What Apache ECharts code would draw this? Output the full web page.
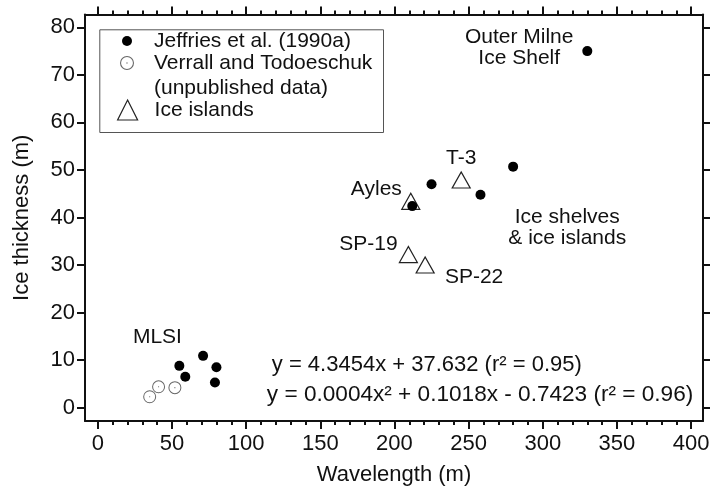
<!DOCTYPE html>
<html>
<head>
<meta charset="utf-8">
<script src="https://cdn.jsdelivr.net/npm/echarts@6/dist/echarts.min.js"></script>
<style>
  html, body { margin: 0; padding: 0; background: #fff; }
  #chart { width: 711px; height: 493px; }
</style>
</head>
<body>
<div id="chart"></div>
<script>
// data: [wavelength (m), ice thickness (m)]
const jeffries = [[330, 75], [280, 50.7], [225, 47], [258, 44.8], [212, 42.4],
  [55, 8.8], [59, 6.5], [71, 10.9], [80, 8.5], [79, 5.3]];
const verrall = [[35, 2.3], [41, 4.4], [52, 4.2]];
const iceIslands = [[211, 43.4], [245, 47.9], [209.4, 32.2], [220.7, 30.0]];

// axis ticks
const xMajor = [0, 50, 100, 150, 200, 250, 300, 350, 400];
const yMajor = [0, 10, 20, 30, 40, 50, 60, 70, 80];
const xMinor = [];
for (let v = 10; v < 400; v += 10) if (v % 50) xMinor.push(v);

// text annotations, placed in data units
const notes = [
  ['Outer Milne\nIce Shelf', 284.1, 75.8, 'center', 21],
  ['T-3', 245, 52.4, 'center', 21],
  ['Ayles', 187.8, 45.9, 'center', 21],
  ['Ice shelves\n& ice islands', 316.5, 37.9, 'center', 21],
  ['SP-19', 182.5, 34.4, 'center', 21],
  ['SP-22', 253.7, 27.5, 'center', 21],
  ['MLSI', 40.2, 14.8, 'center', 21],
  ['y = 4.3454x + 37.632 (r² = 0.95)', 117.3, 9.0, 'left', 22],
  ['y = 0.0004x² + 0.1018x - 0.7423 (r² = 0.96)', 114.0, 2.7, 'left', 22.6]
];

const FONT = "'Liberation Sans', Arial, Helvetica, sans-serif";
const INK = '#111';
const X_MIN = -8.6, X_MAX = 408, Y_MIN = -2.8, Y_MAX = 82.7;

const ring = 'path://M13,0A13,13 0 1,1 13,26A13,13 0 1,1 13,0Z' +
  'M13,2A11,11 0 1,0 13,24A11,11 0 1,0 13,2Z' +
  'M13,11.8A1.2,1.2 0 1,1 13,14.2A1.2,1.2 0 1,1 13,11.8Z';

const chart = echarts.init(document.getElementById('chart'));

function xAxis(pos, ticks, len, line, extra) {
  return Object.assign({
    type: 'value', position: pos, min: X_MIN, max: X_MAX,
    axisLine: { show: line, onZero: false, lineStyle: { color: INK, width: 2 } },
    axisTick: { show: true, inside: false, length: len, customValues: ticks,
      lineStyle: { color: INK, width: 2 } },
    axisLabel: { show: false },
    splitLine: { show: false }
  }, extra || {});
}
function yAxis(pos, len, extra) {
  return Object.assign({
    type: 'value', position: pos, min: Y_MIN, max: Y_MAX,
    axisLine: { show: true, onZero: false, lineStyle: { color: INK, width: 2 } },
    axisTick: { show: true, inside: false, length: len, customValues: yMajor,
      lineStyle: { color: INK, width: 2 } },
    axisLabel: { show: false },
    splitLine: { show: false }
  }, extra || {});
}

// one legend per entry so each icon keeps its own size; icon centred at x = 127
function legendItem(name, top, size, itemStyle) {
  return {
    data: [name], left: 127 - size / 2, top: top, padding: 0,
    itemWidth: size, itemHeight: size, selectedMode: false,
    itemStyle: itemStyle,
    textStyle: { fontSize: 21, color: INK, fontFamily: FONT, lineHeight: 22,
      padding: [0, 0, 0, 22 - size / 2] }
  };
}

const option = {
  animation: false,
  backgroundColor: '#fff',
  grid: { left: 85, right: 8, top: 14.5, bottom: 72, containLabel: false, outerBoundsMode: 'none' },
  xAxis: [
    xAxis('bottom', xMajor, 8, true, {
      axisLabel: { show: true, customValues: xMajor, margin: 12, fontSize: 22, color: INK, fontFamily: FONT },
      name: 'Wavelength (m)', nameLocation: 'middle', nameGap: 43,
      nameTextStyle: { fontSize: 22, color: INK, fontFamily: FONT }
    }),
    xAxis('bottom', xMinor, 4, false),
    xAxis('top', xMajor, 8, true),
    xAxis('top', xMinor, 4, false)
  ],
  yAxis: [
    yAxis('left', 8, {
      axisLabel: { show: true, customValues: yMajor, margin: 10, fontSize: 22, color: INK, fontFamily: FONT },
      name: 'Ice thickness (m)', nameLocation: 'middle', nameGap: 52,
      nameTextStyle: { fontSize: 22, color: INK, fontFamily: FONT }
    }),
    yAxis('right', 7)
  ],
  legend: [
    legendItem('Jeffries et al. (1990a)', 30, 10, { color: '#000', borderWidth: 0, opacity: 1 }),
    legendItem('Verrall and Todoeschuk', 52, 14, { color: '#666', borderWidth: 0, opacity: 1 }),
    legendItem('Ice islands', 99, 20, { color: 'rgba(0,0,0,0)', borderColor: '#222', borderWidth: 1.2, opacity: 1 })
  ],
  graphic: [
    { type: 'rect', left: 97.3, top: 27.3, shape: { width: 283.7, height: 102.7 },
      style: { fill: 'none', stroke: '#555', lineWidth: 1 }, silent: true },
    { type: 'text', left: 154, top: 77.5,
      style: { text: '(unpublished data)', fontSize: 21, fontFamily: FONT, fill: INK, lineHeight: 22 } }
  ],
  series: [
    {
      name: 'Ice islands', type: 'scatter', data: iceIslands,
      symbol: 'triangle', symbolSize: [18, 16],
      itemStyle: { color: 'rgba(0,0,0,0)', borderColor: '#222', borderWidth: 1.2, opacity: 1 }
    },
    {
      name: 'Verrall and Todoeschuk', type: 'scatter', data: verrall,
      symbol: ring, symbolSize: 13,
      itemStyle: { color: '#666', opacity: 1 }
    },
    {
      name: 'Jeffries et al. (1990a)', type: 'scatter', data: jeffries,
      symbol: 'circle', symbolSize: 10,
      itemStyle: { color: '#000', opacity: 1 }
    },
    {
      name: 'notes', type: 'scatter', silent: true, symbolSize: 0,
      itemStyle: { opacity: 1 },
      data: notes.map(n => ({
        name: n[0], value: [n[1], n[2]],
        label: { align: n[3], fontSize: n[4] }
      })),
      label: {
        show: true, position: 'inside', formatter: '{b}', opacity: 1,
        fontSize: 21, lineHeight: 21, color: INK, fontFamily: FONT
      }
    }
  ]
};

chart.setOption(option);
</script>
</body>
</html>
